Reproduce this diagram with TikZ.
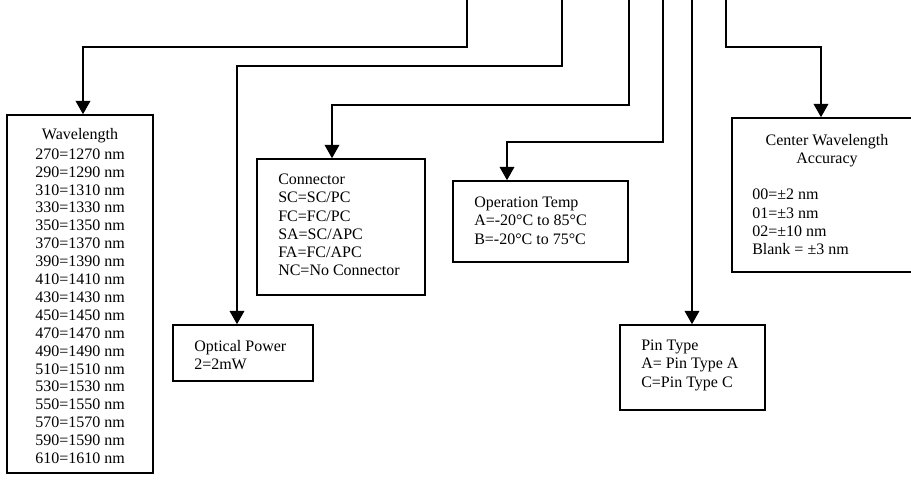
\documentclass[tikz,border=0pt]{standalone}
\usepackage{fontspec}
\setmainfont{Liberation Serif}
\usetikzlibrary{arrows.meta}

\begin{document}
\begin{tikzpicture}[x=0.75pt, y=-0.75pt,
  link/.style={line width=1.2pt, -{Triangle[width=11pt, length=10pt]}},
  box/.style={draw, line width=1.2pt, inner sep=0pt},
  txt/.style={inner sep=0pt, align=left, anchor=north west, font=\fontsize{12}{13.6}\selectfont},
  wltxt/.style={inner sep=0pt, font=\fontsize{12}{13.6}\selectfont}]
  \path[use as bounding box, clip] (0,0) rectangle (911,492);

  % option boxes
  \node[box, minimum width=109.5pt, minimum height=268.5pt] (wl) at (80,294) {};
  \node[box, minimum width=105pt, minimum height=42pt] (op) at (243,353) {};
  \node[box, minimum width=126pt, minimum height=102pt] (cn) at (341,227) {};
  \node[box, minimum width=131.25pt, minimum height=60.75pt] (ot) at (540.5,221.5) {};
  \node[box, minimum width=108.75pt, minimum height=63.75pt] (pin) at (692.5,367.5) {};
  \node[box, minimum width=142.5pt, minimum height=115.5pt] (cw) at (827,195) {};

  % texts
  \node[wltxt] (wltitle) at (80,136) {Wavelength};
  \foreach \n [count=\i from 0] in {27,29,...,61} {
    \node[wltxt] (wl\n) at (80,154+17.9*\i) {\n0=1\n0 nm};
  }
  \node[txt] (optext) at (194,340) {Optical Power\\2=2mW};
  \node[txt] (cntext) at (278,174) {Connector\\SC=SC/PC\\FC=FC/PC\\SA=SC/APC\\FA=FC/APC\\NC=No Connector};
  \node[txt] (ottext) at (474,197) {Operation Temp\\A=-20°C to 85°C\\B=-20°C to 75°C};
  \node[txt] (pintext) at (641,340) {Pin Type\\A= Pin Type A\\C=Pin Type C};
  \node[txt, anchor=north, align=center] (cwtitle) at (827,134) {Center Wavelength\\Accuracy};
  \node[txt] (cwtext) at (752,189) {00=±2 nm\\01=±3 nm\\02=±10 nm\\Blank = ±3 nm};

  % leads from the part number
  \coordinate (tWl) at (467,0);  \coordinate (bWl) at (83,47);
  \coordinate (tOp) at (562,0);  \coordinate (bOp) at (237,66);
  \coordinate (tCn) at (629,0);  \coordinate (bCn) at (332,105);
  \coordinate (tOt) at (663,0);  \coordinate (bOt) at (507,142);
  \coordinate (tPin) at (692,0);
  \coordinate (tCw) at (726,0);  \coordinate (bCw) at (821,47);

  \draw[link] (tWl) |- (bWl) -- (bWl |- wl.north);
  \draw[link] (tOp) |- (bOp) -- (bOp |- op.north);
  \draw[link] (tCn) |- (bCn) -- (bCn |- cn.north);
  \draw[link] (tOt) |- (bOt) -- (bOt |- ot.north);
  \draw[link] (tPin) -- (tPin |- pin.north);
  \draw[link] (tCw) |- (bCw) -- (bCw |- cw.north);
\end{tikzpicture}
\end{document}
